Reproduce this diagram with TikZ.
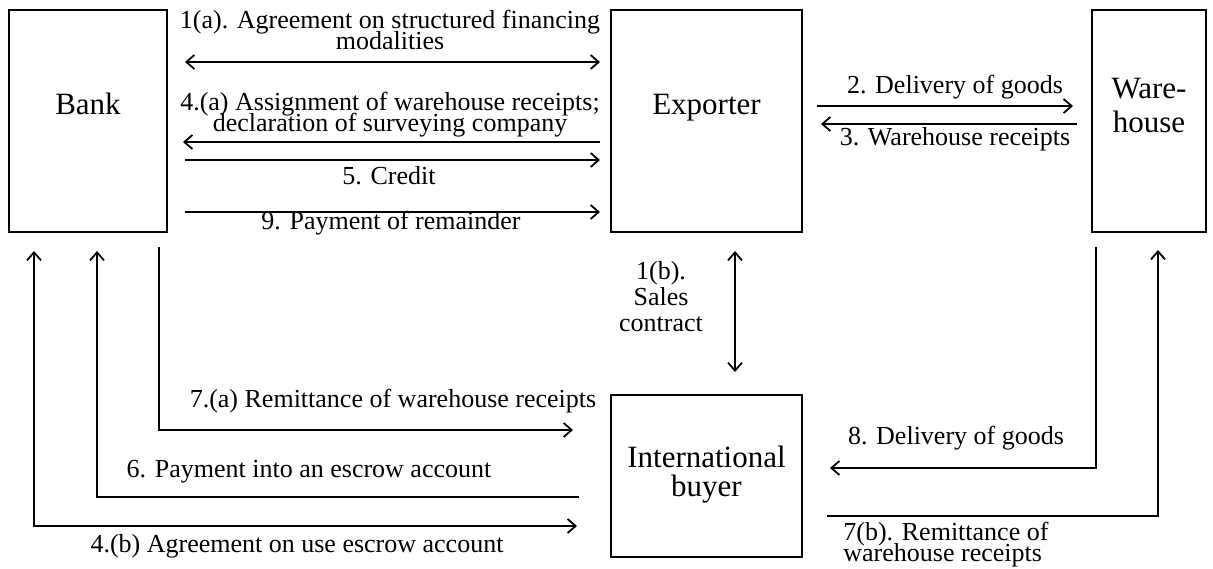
\documentclass[tikz,border=0pt]{standalone}
\usepackage{fontspec}
\setmainfont{Liberation Serif}
\usetikzlibrary{arrows.meta}
% let stacked label lines sit closer than their glyph heights
\newcommand\tightlines{\lineskiplimit -50pt\relax}
\begin{document}
\begin{tikzpicture}[x=0.5pt,y=-0.5pt,
  >={Straight Barb[length=4pt,width=7pt]},
  party/.style={draw, line width=1.2pt, inner sep=0pt, outer sep=0pt},
  partyname/.style={font=\fontsize{15.5}{14}\selectfont\tightlines, align=center, inner sep=0pt},
  flow/.style={line width=0.9pt},
  flowtext/.style={font=\fontsize{13}{10.5}\selectfont\tightlines, align=center, inner sep=0pt}]
\useasboundingbox (0,0) rectangle (1213,568);

% parties
\node[party, minimum width=79pt, minimum height=111pt] (bank) at (88,121) {};
\node[party, minimum width=95.5pt, minimum height=111pt] (exporter) at (706.5,121) {};
\node[party, minimum width=57pt, minimum height=111pt] (warehouse) at (1149,121) {};
\node[party, minimum width=95.5pt, minimum height=81pt] (buyer) at (706.5,476) {};

\node[partyname, anchor=base] (bankname) at (88,114) {Bank};
\node[partyname, anchor=base] (exportername) at (706.5,114) {Exporter};
\node[partyname, font=\fontsize{15.5}{17}\selectfont\tightlines] (warehousename) at (1149,105) {Ware-\\house};
\node[partyname, font=\fontsize{15.5}{14.5}\selectfont\tightlines] (buyername) at (706.5,475) {International\\buyer};

% bank <-> exporter
\draw[flow,<->] ([xshift=9pt,yshift=-26pt]bank.north east) -- ([xshift=-5.5pt,yshift=-26pt]exporter.north west);
\draw[flow,->] ([xshift=-5.5pt,yshift=-66pt]exporter.north west) -- ([xshift=8pt,yshift=-66pt]bank.north east);
\draw[flow,->] ([xshift=9pt,yshift=-75pt]bank.north east) -- ([xshift=-5.5pt,yshift=-75pt]exporter.north west);
\draw[flow,->] ([xshift=9pt,yshift=-101pt]bank.north east) -- ([xshift=-5.5pt,yshift=-101pt]exporter.north west);

\node[flowtext] (l1a) at (390,30) {1(a). Agreement on structured financing\\modalities};
\node[flowtext] (l4a) at (390,115) {4.(a) Assignment of warehouse receipts;\\declaration of surveying company};
\node[flowtext] (l5) at (389,176) {5. Credit};
\node[flowtext] (l9) at (391,223) {9. Payment of remainder};

% exporter <-> warehouse
\draw[flow,->] ([xshift=7.5pt,yshift=-48pt]exporter.north east) -- ([xshift=-9.5pt,yshift=-48pt]warehouse.north west);
\draw[flow,->] ([xshift=-7.5pt,yshift=-57pt]warehouse.north west) -- ([xshift=9.5pt,yshift=-57pt]exporter.north east);
\node[flowtext] (l2) at (955,87) {2. Delivery of goods};
\node[flowtext] (l3) at (955,139) {3. Warehouse receipts};

% exporter <-> buyer
\draw[flow,<->] ([xshift=14.25pt,yshift=-9.5pt]exporter.south) -- ([xshift=14.25pt,yshift=11.5pt]buyer.north);
\node[flowtext, font=\fontsize{13}{13}\selectfont] (l1b) at (661,297) {1(b).\\Sales\\contract};

% bank <-> buyer
\draw[flow,->] ([xshift=-4pt,yshift=-7.5pt]bank.south east) |- ([xshift=-19pt,yshift=23pt]buyer.west);
\draw[flow,->] ([xshift=-16pt,yshift=-10.5pt]buyer.west) -| ([xshift=4.5pt,yshift=-9.5pt]bank.south);
\draw[flow,<->] ([xshift=12.5pt,yshift=-9.5pt]bank.south west) |- ([xshift=-17pt,yshift=-25pt]buyer.west);
\node[flowtext] (l7a) at (393,401) {7.(a) Remittance of warehouse receipts};
\node[flowtext] (l6) at (309,472) {6. Payment into an escrow account};
\node[flowtext] (l4b) at (297,546) {4.(b) Agreement on use escrow account};

% warehouse <-> buyer
\draw[flow,->] ([xshift=2pt,yshift=-7.5pt]warehouse.south west) |- ([xshift=14pt,yshift=4pt]buyer.east);
\draw[flow,->] ([xshift=12.5pt,yshift=-20pt]buyer.east) -| ([xshift=-24pt,yshift=-9pt]warehouse.south east);
\node[flowtext] (l8) at (956,438) {8. Delivery of goods};
\node[flowtext, align=left, anchor=north west] (l7b) at (843,522) {7(b). Remittance of\\warehouse receipts};
\end{tikzpicture}
\end{document}
